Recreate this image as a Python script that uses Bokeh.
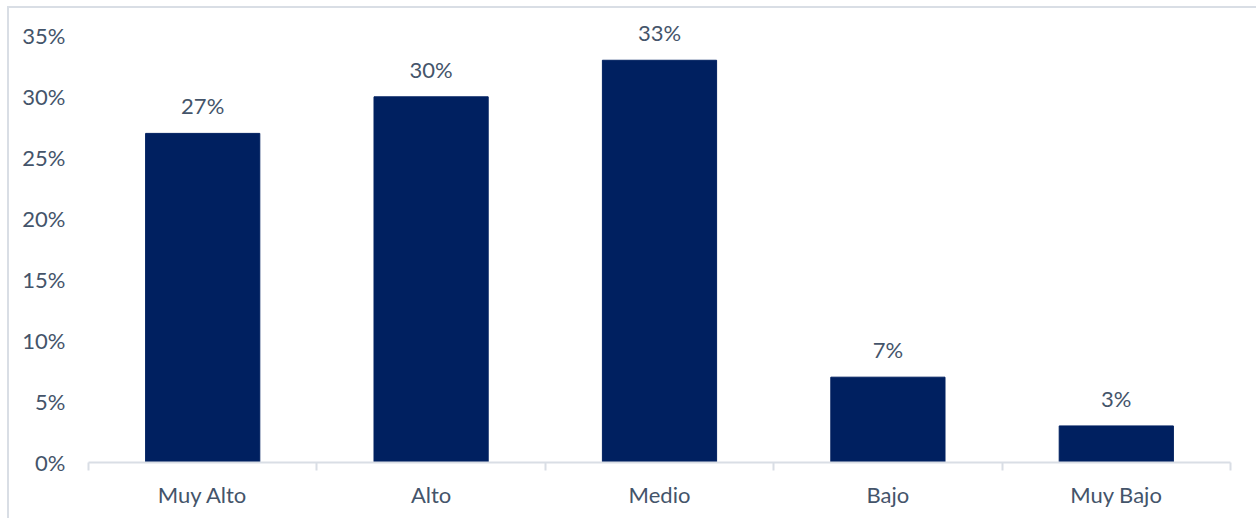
from bokeh.plotting import figure
from bokeh.models import Range1d, FixedTicker, ColumnDataSource, LabelSet
from bokeh.embed import file_html
from bokeh.resources import INLINE
from bokeh.core.properties import value

categories = ["Muy Alto", "Alto", "Medio", "Bajo", "Muy Bajo"]
values = [27, 30, 33, 7, 3]
y_ticks = [0, 5, 10, 15, 20, 25, 30, 35]

FONT = "Lato"
TXT = "#44546A"
BAR = "#002060"
GRID = "#D9DEE5"
FS = "22px"

xs = [i + 0.5 for i in range(len(categories))]
src = ColumnDataSource(dict(x=xs, top=values, label=[f"{v}%" for v in values]))

p = figure(width=1249, height=512, output_backend="svg", toolbar_location=None,
           x_range=Range1d(0, len(categories)), y_range=Range1d(0, 37),
           frame_width=1142, frame_height=451,
           min_border_left=79, min_border_right=28, min_border_top=3, min_border_bottom=58)
p.styles = {"position": "absolute", "left": "9px", "top": "8px",
            "box-shadow": f"-2px -2px 0 0 {GRID}"}
p.outline_line_color = None
p.background_fill_color = None
p.border_fill_color = None
p.xgrid.visible = False
p.ygrid.visible = False

p.vbar(x="x", top="top", width=0.5, bottom=0, source=src, fill_color=BAR, line_color=BAR)
labels = LabelSet(x="x", y="top", text="label", source=src, text_align="center",
                  text_baseline="bottom", y_offset=14, text_font=value(FONT),
                  text_font_size=value(FS), text_color=value(TXT))
p.add_layout(labels)

xa = p.xaxis[0]
xa.ticker = FixedTicker(ticks=xs, minor_ticks=list(range(len(categories) + 1)))
xa.major_label_overrides = {x: c for x, c in zip(xs, categories)}
xa.major_tick_line_color = None
xa.major_tick_out = 0
xa.major_tick_in = 0
xa.minor_tick_line_color = GRID
xa.minor_tick_out = 8
xa.minor_tick_in = 0
xa.minor_tick_line_width = 2
xa.axis_line_color = GRID
xa.axis_line_width = 2
xa.major_label_text_font = FONT
xa.major_label_text_font_size = FS
xa.major_label_text_color = TXT
xa.major_label_standoff = 10

ya = p.yaxis[0]
ya.ticker = FixedTicker(ticks=y_ticks)
ya.major_label_overrides = {t: f"{t}%" for t in y_ticks}
ya.axis_line_color = None
ya.major_tick_line_color = None
ya.minor_tick_line_color = None
ya.major_tick_out = 0
ya.major_label_text_font = FONT
ya.major_label_text_font_size = FS
ya.major_label_text_color = TXT
ya.major_label_standoff = 23

open("out.html", "w").write(file_html(p, INLINE))
